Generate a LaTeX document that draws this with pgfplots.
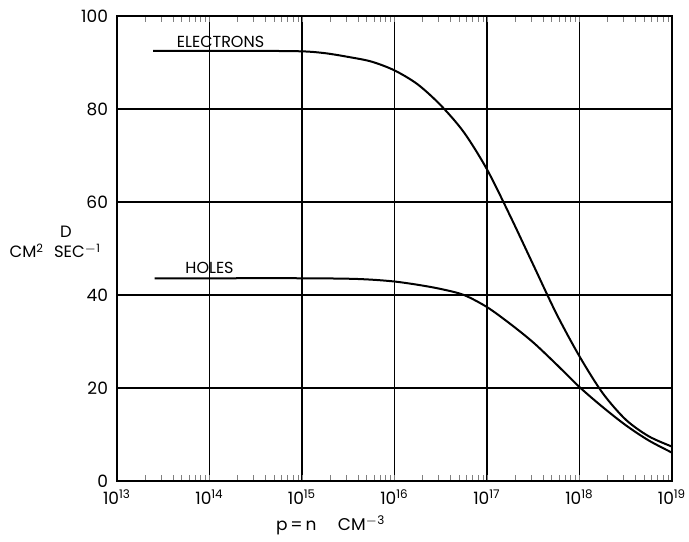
\documentclass[border=0pt]{standalone}
\usepackage{fontspec}
\setmainfont{Poppins}
\usepackage{pgfplots}
\pgfplotsset{compat=1.18}

\begin{document}
\begin{tikzpicture}
\path[use as bounding box] (-58.5pt,-30pt) rectangle (286pt,240.5pt);
\begin{axis}[at={(0,0)}, anchor=south west, scale only axis, width=277.5pt, height=232.5pt,
  xmode=log, xmin=1e13, xmax=1e19, ymin=0, ymax=100,
  xtick={1e13,1e14,1e15,1e16,1e17,1e18,1e19},
  xticklabels={10\textsuperscript{13},10\textsuperscript{14},10\textsuperscript{15},10\textsuperscript{16},10\textsuperscript{17},10\textsuperscript{18},10\textsuperscript{19}},
  ytick={0,20,40,60,80,100},
  yticklabels={0,20,40,60,80,100},
  minor xtick={}, major tick length=0pt,
  grid=major, grid style={black, line width=0.6pt},
  axis line style={line width=0.75pt},
  tick label style={font=\fontsize{8.5}{10}\selectfont},
  yticklabel style={xshift=-1pt},
  xticklabel style={yshift=-1pt},
  xlabel={p\,=\,n\quad\ CM\textsuperscript{$-$3}},
  xlabel style={at={(rel axis cs:0.385,0)}, anchor=north, yshift=-14pt, font=\fontsize{8.5}{10}\selectfont},
  ylabel={\begin{tabular}{@{}l@{\hspace{5pt}}l@{}} & \hspace{3pt}D\\ CM\textsuperscript{2} & SEC\textsuperscript{$-$1}\end{tabular}},
  ylabel style={rotate=-90, at={(rel axis cs:0,0.51)}, anchor=east, xshift=-4.5pt, font=\fontsize{8.2}{10}\selectfont},
]
% electrons
\addplot[black, line width=1pt, smooth] coordinates {
 (2.45e13,92.5) (1e14,92.5) (3.16e14,92.5) (1e15,92.4) (1.78e15,92.0) (3.16e15,91.2)
 (5.62e15,90.2) (1e16,88.3) (1.78e16,85.3) (3.16e16,80.8) (5.62e16,75.0) (1e17,67.0)
 (1.78e17,57.0) (3.16e17,46.5) (5.62e17,36.0) (1e18,26.8) (1.78e18,18.9)
 (3.16e18,13.2) (5.62e18,9.6) (1e19,7.4)};
% holes
\addplot[black, line width=1pt, smooth] coordinates {
 (2.55e13,43.6) (1e14,43.6) (1e15,43.6) (3.16e15,43.5) (5.62e15,43.3) (1e16,42.9)
 (1.78e16,42.2) (3.16e16,41.3) (5.62e16,40.0) (1e17,37.4) (1.78e17,33.8)
 (3.16e17,29.8) (5.62e17,25.1) (1e18,20.2) (1.78e18,15.9) (3.16e18,12.0)
 (5.62e18,8.7) (1e19,6.1)};
\node[anchor=base west, inner sep=0pt, font=\fontsize{8}{9.6}\selectfont] at (axis cs:4.4e13,93.3) {ELECTRONS};
\node[anchor=base west, inner sep=0pt, font=\fontsize{8}{9.6}\selectfont] at (axis cs:5.44e13,44.55) {HOLES};
\end{axis}
\end{tikzpicture}
\end{document}
